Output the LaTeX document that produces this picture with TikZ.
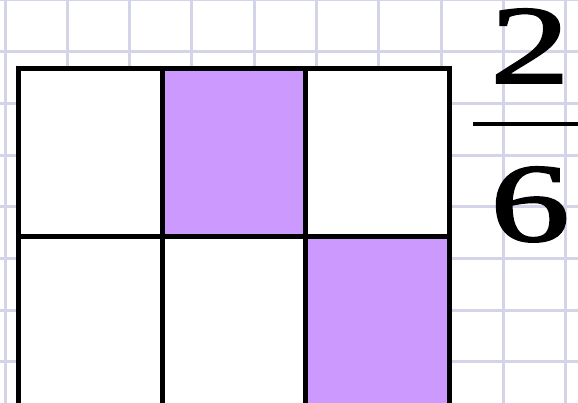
\documentclass[tikz,border=0pt]{standalone}
\usepackage{fontspec}
\setmainfont{Liberation Serif}
\newfontfamily\fracfont[FakeBold=1.6]{Liberation Serif}
\usetikzlibrary{positioning}
\definecolor{paperline}{RGB}{212,212,232}
\definecolor{shade}{RGB}{204,153,255}

\begin{document}
\begin{tikzpicture}[x=1pt, y=-1pt,
    cell/.style={draw, line width=5pt, fill=white, minimum width=143.7pt,
        minimum height=168pt, inner sep=0pt, outer sep=0pt},
    shaded/.style={cell, fill=shade},
    digit/.style={inner sep=0pt, anchor=base, font=\fontsize{112}{112}\fracfont}]
        \useasboundingbox (0,0) rectangle (578,403);
        \fill[white] (0,0) rectangle (578,403);

        % Squared paper
        \foreach \gx in {5,67.3,...,570}
            \draw[paperline, line width=3pt] (\gx,0) -- (\gx,403);
        \foreach \gy in {0,51.7,...,405}
            \draw[paperline, line width=3pt] (0,\gy) -- (578,\gy);

        % Top row
        \node[cell]                     (a1) at (90.35,153) {};
        \node[shaded, right=0pt of a1]  (a2) {};
        \node[cell, right=0pt of a2]    (a3) {};

        % Bottom row
        \node[cell, below=0pt of a1]    (b1) {};
        \node[cell, below=0pt of a2]    (b2) {};
        \node[shaded, below=0pt of a3]  (b3) {};

        % Fraction
        \node[digit] (num) at (530,83)  {\scalebox{1.42}[1]{2}};
        \node[digit] (den) at (530,241) {\scalebox{1.42}[1]{6}};
        \coordinate (barL) at (473,124);
        \coordinate (barR) at (580,124);
        \draw[line width=3.5pt] (barL) -- (barR);
\end{tikzpicture}
\end{document}
